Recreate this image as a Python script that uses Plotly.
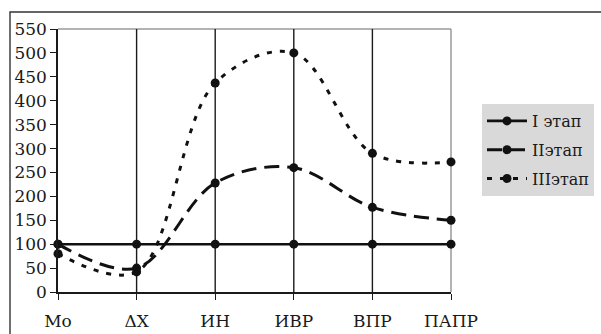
import plotly.graph_objects as go

# Stages measured at six physiological indicators
categories = ["Mo", "ΔX", "ИН", "ИВР", "ВПР", "ПАПР"]
stage1 = [100, 100, 100, 100, 100, 100]
stage2 = [100, 50, 228, 260, 177, 150]
stage3 = [80, 42, 437, 500, 290, 272]
series_names = ["I этап", "IIэтап", "IIIэтап"]
y_ticks = list(range(0, 551, 50))

W, H = 601, 334
L, R, T, B = 58, 150, 29, 42
FONT = "DejaVu Serif"

xs = list(range(len(categories)))
fig = go.Figure()

styles = [
    dict(width=2.6, dash="solid", shape="linear"),
    dict(width=3, dash="15px,8px", shape="spline"),
    dict(width=3, dash="5px,8px", shape="spline"),
]
for name, vals, st in zip(series_names, [stage1, stage2, stage3], styles):
    fig.add_trace(go.Scatter(
        x=xs, y=vals, name=name, legendgroup=name, mode="lines+markers",
        line=dict(color="#111111", width=st["width"], dash=st["dash"],
                  shape=st["shape"], smoothing=1),
        marker=dict(color="#111111", size=9),
        cliponaxis=False,
    ))

pw = W - L - R
ph = H - T - B
def px_x(p):
    return (p - L) / pw
def px_y(p):
    return (H - B - p) / ph

shapes = [
    # outer chart frame
    dict(type="rect", xref="paper", yref="paper",
         x0=px_x(10), x1=px_x(640), y0=px_y(360), y1=px_y(12),
         line=dict(color="#333333", width=1.4), layer="below"),
    # plot-area border on top and right
    dict(type="line", xref="paper", yref="paper", x0=0, x1=1, y0=1, y1=1,
         line=dict(color="#9a9a9a", width=1.5), layer="below"),
    dict(type="line", xref="paper", yref="paper", x0=1, x1=1, y0=0, y1=1,
         line=dict(color="#9a9a9a", width=1.5), layer="below"),
]
# vertical category lines
for i in xs[1:-1]:
    shapes.append(dict(type="line", xref="x", yref="paper", x0=i, x1=i, y0=0, y1=1,
                       line=dict(color="#1a1a1a", width=1.4), layer="below"))

fig.update_layout(
    width=W, height=H,
    margin=dict(l=L, r=R, t=T, b=B, pad=0, autoexpand=False),
    paper_bgcolor="white", plot_bgcolor="white",
    font=dict(family=FONT, size=17, color="#1a1a1a"),
    shapes=shapes,
    showlegend=True,
    legend=dict(x=px_x(482), y=px_y(104), xanchor="left", yanchor="top",
                bgcolor="#d9d9d9", borderwidth=0,
                font=dict(family=FONT, size=16, color="#1a1a1a"),
                itemwidth=40, tracegroupgap=5),
    xaxis=dict(range=[0, 5], tickvals=xs, ticktext=categories,
               showgrid=False, zeroline=False, automargin=False,
               showline=True, linecolor="#1a1a1a", linewidth=1.5,
               ticks="outside", ticklen=6, tickcolor="#1a1a1a",
               ticklabelstandoff=7,
               tickfont=dict(family=FONT, size=17)),
    yaxis=dict(range=[0, 550], tickvals=y_ticks,
               showgrid=False, zeroline=False, automargin=False,
               showline=True, linecolor="#1a1a1a", linewidth=1.5,
               ticks="outside", ticklen=6, tickcolor="#1a1a1a",
               tickfont=dict(family=FONT, size=17)),
)

fig.write_html("out.html")
